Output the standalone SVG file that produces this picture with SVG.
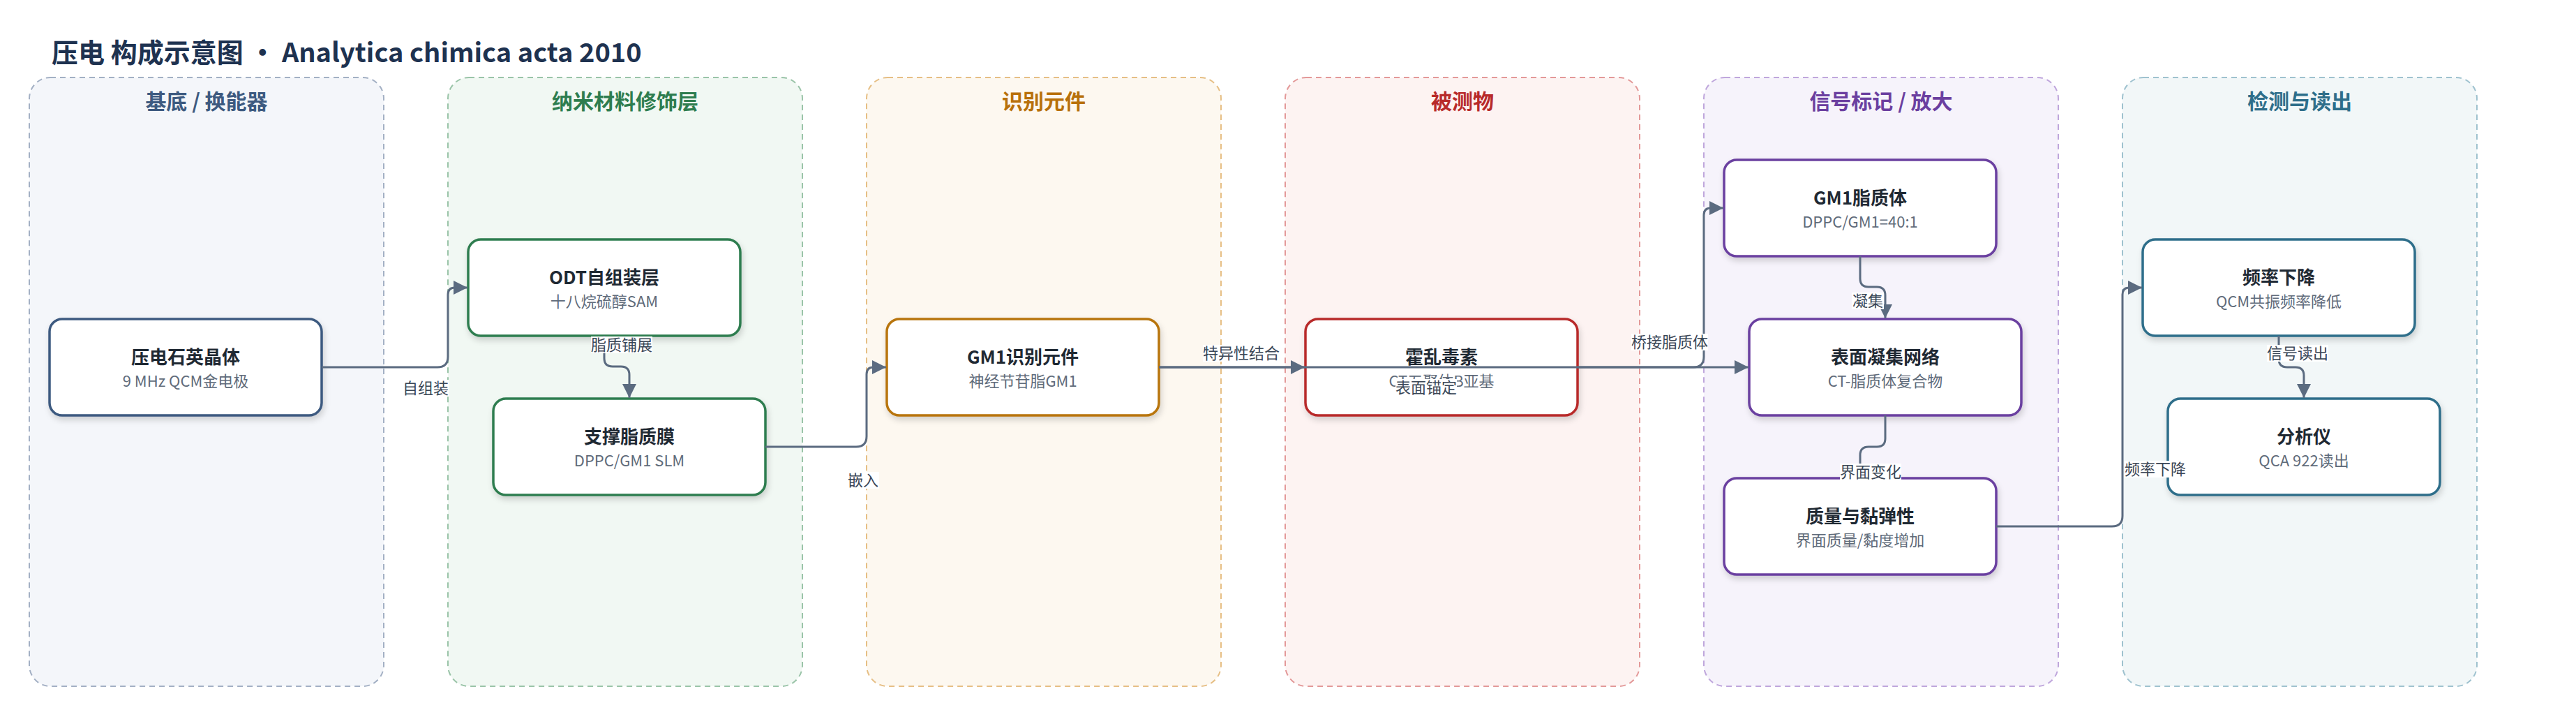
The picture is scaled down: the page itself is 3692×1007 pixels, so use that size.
<svg xmlns="http://www.w3.org/2000/svg" width="3692" height="1007" viewBox="0 0 3692 1007">
<defs>
<style>
text{font-family:"Noto Sans CJK SC","Noto Sans",sans-serif}
.title{font-size:38px;font-weight:700;fill:#1e3250}
.lane{stroke-width:2;stroke-dasharray:8 6}
.lt{font-size:30px;font-weight:700;text-anchor:middle}
.node{fill:#fff;stroke-width:3.5;filter:url(#sh)}
.nt{font-size:26px;font-weight:700;fill:#1f2933;text-anchor:middle}
.ns{font-size:22px;fill:#5f6b7a;text-anchor:middle}
.edge{fill:none;stroke:#5b6b80;stroke-width:3;marker-end:url(#ah)}
.lb{fill:#fff}
.el{font-size:22px;fill:#3a4656;text-anchor:middle}
</style>
<filter id="sh" x="-10%" y="-20%" width="120%" height="150%">
<feDropShadow dx="2" dy="5" stdDeviation="4" flood-color="#000" flood-opacity="0.16"/>
</filter>
<marker id="ah" viewBox="0 0 20 20" refX="20" refY="10" markerWidth="20" markerHeight="20" markerUnits="userSpaceOnUse" orient="auto">
<path d="M0,0 L20,10 L0,20 z" fill="#5b6b80"/>
</marker>
</defs>
<rect width="3692" height="1007" fill="#fff"/>
<text class="title" x="74" y="89">压电 构成示意图 • Analytica chimica acta 2010</text>

<g id="lanes">
<g id="lane1"><rect class="lane" x="42" y="111" width="508" height="872" rx="30" fill="#f4f6fa" stroke="#a3b0c4"/><text class="lt" x="296" y="156" fill="#3d5a80">基底 / 换能器</text></g>
<g id="lane2"><rect class="lane" x="642" y="111" width="508" height="872" rx="30" fill="#f1f8f3" stroke="#9ac4a8"/><text class="lt" x="896" y="156" fill="#2e7d4f">纳米材料修饰层</text></g>
<g id="lane3"><rect class="lane" x="1242" y="111" width="508" height="872" rx="30" fill="#fdf8f0" stroke="#e6bf85"/><text class="lt" x="1496" y="156" fill="#b8700a">识别元件</text></g>
<g id="lane4"><rect class="lane" x="1842" y="111" width="508" height="872" rx="30" fill="#fdf3f2" stroke="#e39999"/><text class="lt" x="2096" y="156" fill="#b82a2a">被测物</text></g>
<g id="lane5"><rect class="lane" x="2442" y="111" width="508" height="872" rx="30" fill="#f6f3fb" stroke="#bfa6dc"/><text class="lt" x="2696" y="156" fill="#6b3fa0">信号标记 / 放大</text></g>
<g id="lane6"><rect class="lane" x="3042" y="111" width="508" height="872" rx="30" fill="#f2f7f8" stroke="#9fc2cf"/><text class="lt" x="3296" y="156" fill="#2e6e8a">检测与读出</text></g>
</g>

<g id="n1"><rect class="node" x="71" y="457" width="390" height="138" rx="18" stroke="#3d5a80"/><text class="nt" x="266" y="521">压电石英晶体</text><text class="ns" x="266" y="554">9 MHz QCM金电极</text></g>
<g id="n2"><rect class="node" x="671" y="343" width="390" height="138" rx="18" stroke="#2e7d4f"/><text class="nt" x="866" y="407">ODT自组装层</text><text class="ns" x="866" y="440">十八烷硫醇SAM</text></g>
<g id="n3"><rect class="node" x="707" y="571" width="390" height="138" rx="18" stroke="#2e7d4f"/><text class="nt" x="902" y="635">支撑脂质膜</text><text class="ns" x="902" y="668">DPPC/GM1 SLM</text></g>
<g id="n4"><rect class="node" x="1271" y="457" width="390" height="138" rx="18" stroke="#b8740a"/><text class="nt" x="1466" y="521">GM1识别元件</text><text class="ns" x="1466" y="554">神经节苷脂GM1</text></g>
<g id="n5"><rect class="node" x="1871" y="457" width="390" height="138" rx="18" stroke="#b82a2a"/><text class="nt" x="2066" y="521">霍乱毒素</text><text class="ns" x="2066" y="554">CT五聚体B亚基</text></g>
<g id="n6"><rect class="node" x="2471" y="229" width="390" height="138" rx="18" stroke="#6b3fa0"/><text class="nt" x="2666" y="293">GM1脂质体</text><text class="ns" x="2666" y="326">DPPC/GM1=40:1</text></g>
<g id="n7"><rect class="node" x="2507" y="457" width="390" height="138" rx="18" stroke="#6b3fa0"/><text class="nt" x="2702" y="521">表面凝集网络</text><text class="ns" x="2702" y="554">CT-脂质体复合物</text></g>
<g id="n8"><rect class="node" x="2471" y="685" width="390" height="138" rx="18" stroke="#6b3fa0"/><text class="nt" x="2666" y="749">质量与黏弹性</text><text class="ns" x="2666" y="782">界面质量/黏度增加</text></g>
<g id="n9"><rect class="node" x="3071" y="343" width="390" height="138" rx="18" stroke="#2e6e8a"/><text class="nt" x="3266" y="407">频率下降</text><text class="ns" x="3266" y="440">QCM共振频率降低</text></g>
<g id="n10"><rect class="node" x="3107" y="571" width="390" height="138" rx="18" stroke="#2e6e8a"/><text class="nt" x="3302" y="635">分析仪</text><text class="ns" x="3302" y="668">QCA 922读出</text></g>

<g id="connectors">
<path class="edge" d="M461,526 H627 Q642,526 642,511 V422 Q642,412 652,412 H670"/>
<path class="edge" d="M866,481 V513 Q866,525 878,525 H890 Q902,525 902,537 V570"/>
<path class="edge" d="M1097,640 H1227 Q1242,640 1242,625 V536 Q1242,526 1252,526 H1270"/>
<path class="edge" d="M1661,526 H1870"/>
<path class="edge" d="M1661,526 H2506"/>
<path class="edge" d="M2261,526 H2427 Q2442,526 2442,511 V308 Q2442,298 2452,298 H2470"/>
<path class="edge" d="M2666,367 V399 Q2666,411 2678,411 H2690 Q2702,411 2702,423 V456"/>
<path class="edge" d="M2702,595 V628 Q2702,640 2690,640 H2678 Q2666,640 2666,652 V684"/>
<path class="edge" d="M2861,754 H3027 Q3042,754 3042,739 V422 Q3042,412 3052,412 H3070"/>
<path class="edge" d="M3266,481 V514 Q3266,526 3278,526 H3290 Q3302,526 3302,538 V570"/>
<g id="labels">
<rect class="lb" x="577" y="544" width="66" height="24"/><text class="el" x="610" y="564">自组装</text>
<rect class="lb" x="847" y="482" width="88" height="24"/><text class="el" x="891" y="502">脂质铺展</text>
<rect class="lb" x="1214" y="676" width="46" height="24"/><text class="el" x="1237" y="696">嵌入</text>
<rect class="lb" x="1724" y="494" width="110" height="24"/><text class="el" x="1779" y="514">特异性结合</text>
<rect class="lb" x="2000" y="543" width="88" height="24"/><text class="el" x="2044" y="563">表面锚定</text>
<rect class="lb" x="2338" y="478" width="110" height="24"/><text class="el" x="2393" y="498">桥接脂质体</text>
<rect class="lb" x="2654" y="419" width="46" height="24"/><text class="el" x="2677" y="439">凝集</text>
<rect class="lb" x="2637" y="664" width="88" height="24"/><text class="el" x="2681" y="684">界面变化</text>
<rect class="lb" x="3045" y="660" width="88" height="24"/><text class="el" x="3089" y="680">频率下降</text>
<rect class="lb" x="3249" y="494" width="88" height="24"/><text class="el" x="3293" y="514">信号读出</text>
</g>
</g>
</svg>
